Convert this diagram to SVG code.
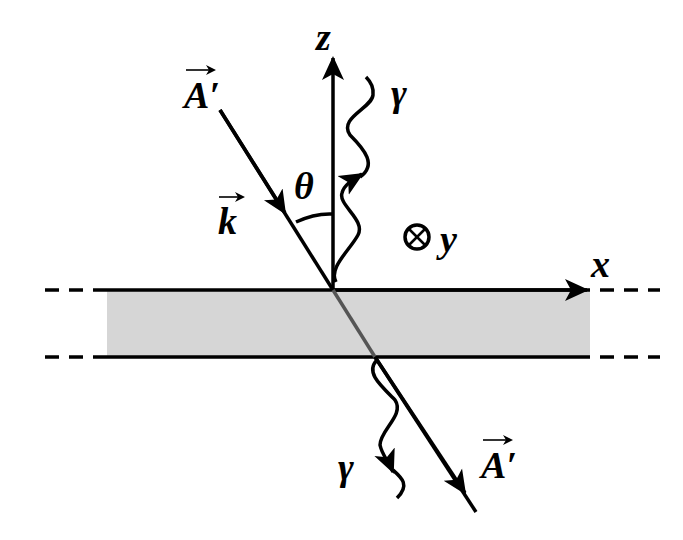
<svg xmlns="http://www.w3.org/2000/svg" width="683" height="540" viewBox="0 0 683 540">
<defs>
<style>
.t{font-family:"Liberation Serif",serif;font-weight:bold;font-style:italic;font-size:38px;fill:#000}
.l{stroke:#000;stroke-width:3.5;fill:none}
</style>
<marker id="ah" markerWidth="10" markerHeight="10" refX="8" refY="5" orient="auto" markerUnits="userSpaceOnUse" viewBox="0 0 10 10"><path d="M0,0 L10,5 L0,10 L3,5 Z" fill="#000"/></marker>
<marker id="ahb" markerWidth="26" markerHeight="26" refX="22" refY="13" orient="auto" markerUnits="userSpaceOnUse" viewBox="0 0 26 26"><path d="M0,2 L24,13 L0,24 L6,13 Z" fill="#000"/></marker>
</defs>
<g id="slab">
<rect x="107" y="290" width="483" height="67" fill="#d6d6d6"/>
<line x1="107" y1="290" x2="590" y2="290" class="l"/>
<line x1="107" y1="357" x2="590" y2="357" class="l"/>
<line x1="45" y1="290" x2="107" y2="290" class="l" stroke-dasharray="14,10"/>
<line x1="45" y1="357" x2="107" y2="357" class="l" stroke-dasharray="14,10"/>
<line x1="600" y1="290" x2="660" y2="290" class="l" stroke-dasharray="14,10"/>
<line x1="600" y1="357" x2="660" y2="357" class="l" stroke-dasharray="14,10"/>
</g>
<g id="connectors">
<line x1="333" y1="290" x2="587" y2="290" class="l" marker-end="url(#ahb)"/>
<line x1="333" y1="290" x2="333" y2="58" class="l" marker-end="url(#ahb)"/>
<line x1="220" y1="110" x2="333" y2="290" class="l"/>
<line x1="220" y1="110" x2="285" y2="213" class="l" marker-end="url(#ahb)"/>
<line x1="333" y1="290" x2="375" y2="357" stroke="#555" stroke-width="3.5"/>
<line x1="375" y1="357" x2="476" y2="512" class="l"/>
<line x1="375" y1="357" x2="465" y2="493" class="l" marker-end="url(#ahb)"/>
<path d="M336,282 C328,268 350,250 358,235 C366,220 338,205 342,193 C344,185 352,180 362,174" class="l" marker-end="url(#ahb)"/>
<path d="M360,177 C377,165 365,150 350,135 C338,118 372,108 373,95 C374,87 370,81 366,77" class="l"/>
<path d="M377,360 C365,372 380,385 395,400 C405,415 380,430 380,445 C382,455 388,460 393,472" class="l" marker-end="url(#ahb)"/>
<path d="M393,470 C402,478 410,485 397,498" class="l"/>
<path d="M296,222 Q315,213 333,214" class="l"/>
</g>
<g id="otimes">
<circle cx="417" cy="237" r="12" class="l" stroke-width="2.5"/>
<line x1="409" y1="229" x2="425" y2="245" stroke="#000" stroke-width="2.5"/>
<line x1="425" y1="229" x2="409" y2="245" stroke="#000" stroke-width="2.5"/>
</g>
<g id="labels">
<text x="316" y="50" class="t">z</text>
<text x="391" y="106" class="t">γ</text>
<text x="294" y="199" class="t">θ</text>
<text x="440" y="252" class="t">y</text>
<text x="591" y="277" class="t">x</text>
<text x="338" y="480" class="t">γ</text>
<text x="184" y="108" class="t">A′</text>
<line x1="186" y1="70" x2="214" y2="70" stroke="#000" stroke-width="1.6" marker-end="url(#ah)"/>
<text x="218" y="234" class="t">k</text>
<line x1="219" y1="197" x2="243" y2="197" stroke="#000" stroke-width="1.6" marker-end="url(#ah)"/>
<text x="481" y="478" class="t">A′</text>
<line x1="483" y1="440" x2="511" y2="440" stroke="#000" stroke-width="1.6" marker-end="url(#ah)"/>
</g>
</svg>
